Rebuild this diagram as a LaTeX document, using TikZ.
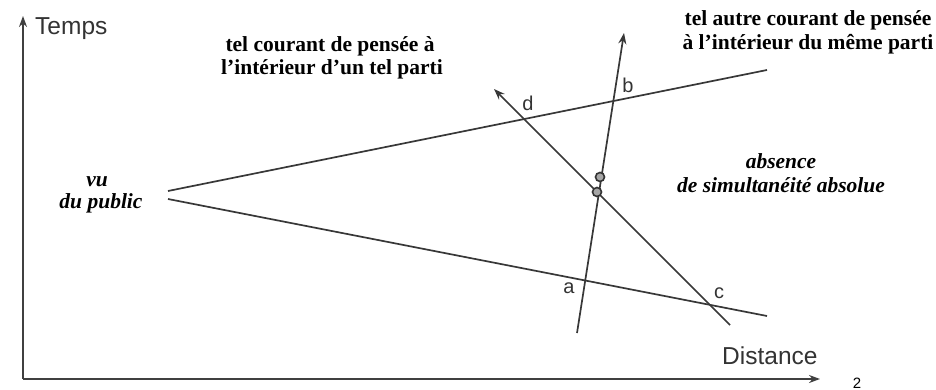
\documentclass[tikz,border=0pt]{standalone}
\usepackage{fontspec}
\setmainfont{Liberation Serif}
\newfontfamily\sansf{Liberation Sans}
\usetikzlibrary{arrows.meta}
\begin{document}
\begin{tikzpicture}[x=1pt,y=-1pt,
  ln/.style={line width=1.7pt, draw=black!78},
  ax/.style={line width=2pt, draw=black!75},
  tip/.style={-{Stealth[length=11pt,width=8pt]}},
  ttl/.style={font=\bfseries\fontsize{21.5}{23}\selectfont, anchor=base, inner sep=0pt},
  itl/.style={font=\bfseries\itshape\fontsize{21.5}{23}\selectfont, anchor=base, inner sep=0pt},
  axl/.style={font=\sansf\fontsize{24.5}{26}\selectfont, anchor=base west, inner sep=0pt, text=black!80},
  ptl/.style={font=\sansf\fontsize{20}{22}\selectfont, inner sep=0pt, text=black!80},
  dot/.style={circle, draw=black!80, line width=1.6pt, fill=black!35, minimum size=9pt, inner sep=0pt}]
\useasboundingbox (0,0) rectangle (936,390);
% axes
\coordinate (O) at (23,379);
\coordinate (Yt) at (23,16);
\coordinate (Xt) at (820,379);
\draw[ax,tip] (O) -- (Yt);
\draw[ax,tip] (O) -- (Xt);
\node[axl] (temps) at (35,35) {Temps};
\node[axl] (dist) at (722,364) {Distance};
\node[font=\sansf\fontsize{15}{16}\selectfont, anchor=base, inner sep=0pt] (num) at (857,388) {2};
% lines
\coordinate (U1) at (168,191);
\coordinate (U2) at (767,70);
\coordinate (L1) at (168,199);
\coordinate (L2) at (767,316);
\coordinate (B1) at (577,333);
\coordinate (Bt) at (624,33);
\coordinate (D2) at (730,325);
\coordinate (Dt) at (494,89);
\draw[ln] (U1) -- (U2);
\draw[ln] (L1) -- (L2);
\draw[ln,tip] (B1) -- (Bt);
\draw[ln,tip] (D2) -- (Dt);
\node[dot] (p1) at (600,177) {};
\node[dot] (p2) at (597,192) {};
% point labels
\node[ptl] (a) at (569,288) {a};
\node[ptl] (b) at (628,85) {b};
\node[ptl] (c) at (719,293) {c};
\node[ptl] (d) at (528,103) {d};
% texts
\node[ttl] (t1a) at (330,52) {tel courant de pensée à};
\node[ttl] (t1b) at (332,75) {l’intérieur d’un tel parti};
\node[ttl] (t2a) at (808,26) {tel autre courant de pensée};
\node[ttl] (t2b) at (808,50) {à l’intérieur du même parti};
\node[itl] (v1) at (97,186) {vu};
\node[itl] (v2) at (101,208) {du public};
\node[itl] (s1) at (781,168) {absence};
\node[itl] (s2) at (781,193) {de simultanéité absolue};
\end{tikzpicture}
\end{document}
